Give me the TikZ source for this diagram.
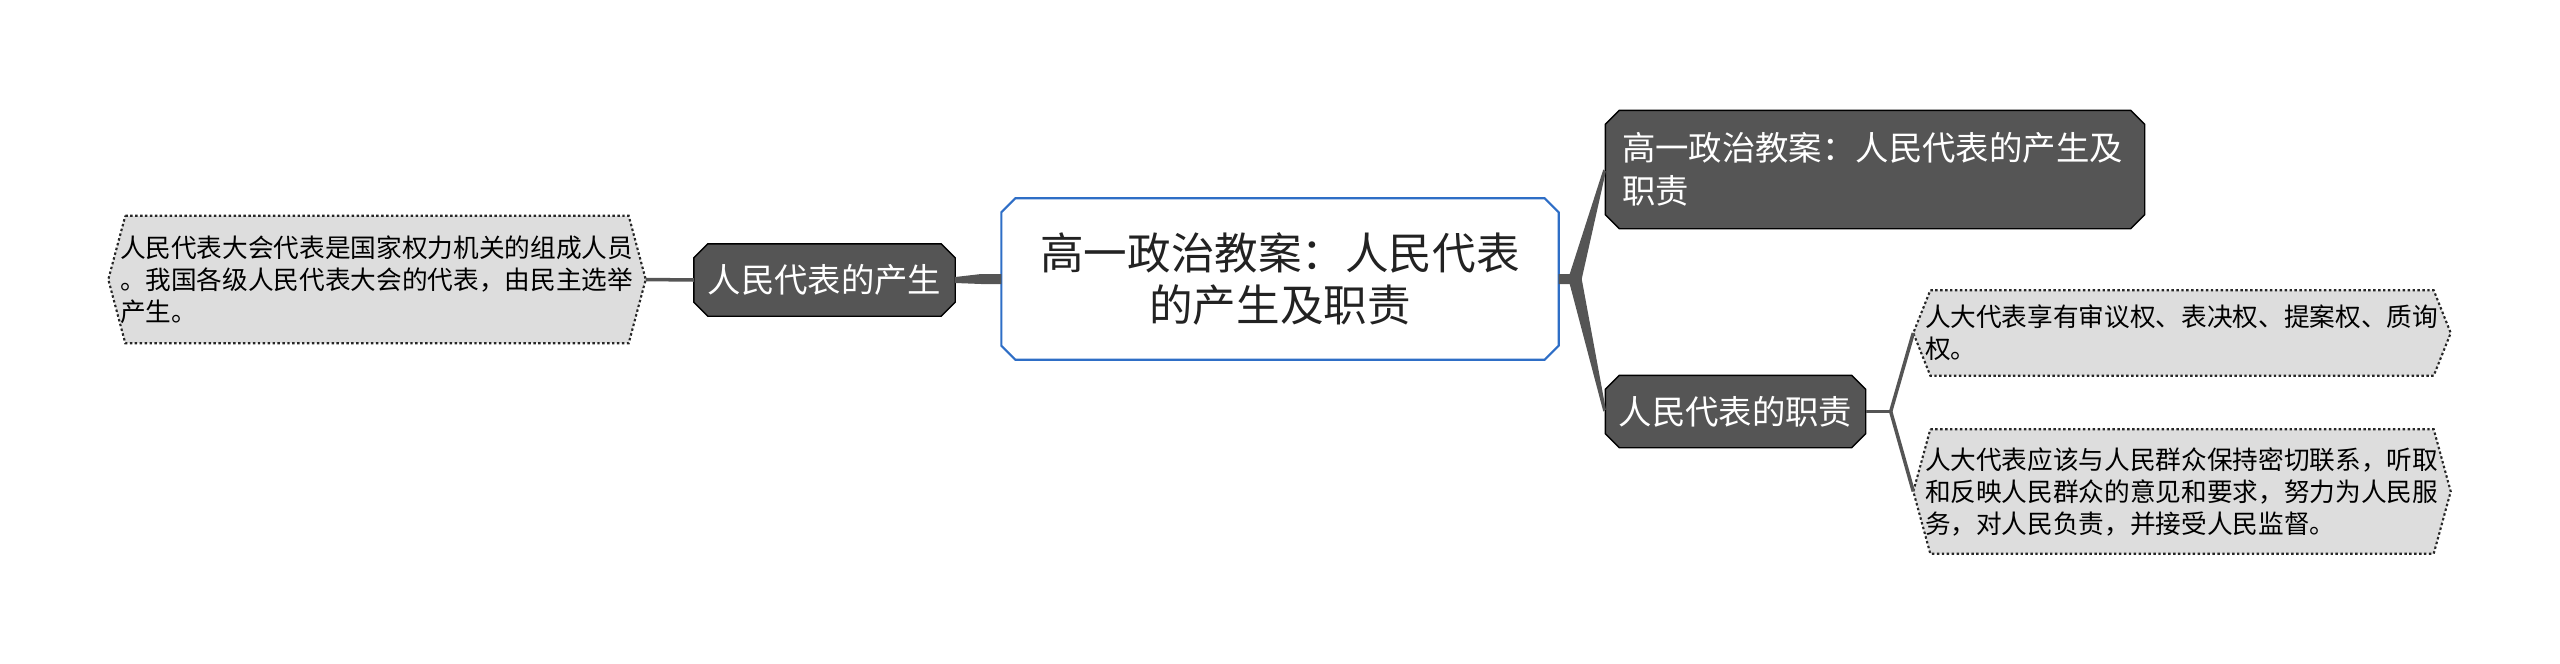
\documentclass[tikz,border=0pt]{standalone}
\usepackage{fontspec}
\newfontfamily\cjk{Noto Sans CJK SC}
\usetikzlibrary{calc,backgrounds}
\definecolor{nodedark}{RGB}{85,85,85}
\definecolor{leafgray}{RGB}{221,221,221}
\definecolor{rootblue}{RGB}{46,110,198}
\definecolor{inkgray}{RGB}{34,34,34}
\tikzset{
  rootnode/.style={minimum width=5.56cm,minimum height=1.60cm,inner sep=0pt,align=center,text=inkgray,font=\cjk\fontsize{12.4}{14.9}\selectfont},
  midnode/.style={minimum width=2.6cm,minimum height=0.71cm,inner sep=0pt,text=white,font=\cjk\fontsize{9.5}{12.1}\selectfont},
  leafnode/.style={minimum width=5.36cm,inner xsep=0.11cm,text width=5.14cm,align=left,text=black,font=\cjk\fontsize{7.3}{9.1}\selectfont},
  rootframe/.style={draw=rootblue,fill=white,line width=0.6pt},
  darkframe/.style={fill=nodedark},
  leafedge/.style={draw=black!85,fill=leafgray,dash pattern=on 0.7pt off 0.7pt,line width=0.6pt},
  trunk/.style={fill=nodedark},
  twig/.style={draw=nodedark,line width=1pt}
}
\def\cutsz{0.14}
\newcommand{\octframe}[2]{%
  \draw[#1] ($(#2.north west)+(\cutsz,0)$) -- ($(#2.north east)+(-\cutsz,0)$)
    -- ($(#2.north east)+(0,-\cutsz)$) -- ($(#2.south east)+(0,\cutsz)$)
    -- ($(#2.south east)+(-\cutsz,0)$) -- ($(#2.south west)+(\cutsz,0)$)
    -- ($(#2.south west)+(0,\cutsz)$) -- ($(#2.north west)+(0,-\cutsz)$) -- cycle;}
\newcommand{\hexframe}[1]{%
  \draw[leafedge] ($(#1.north west)+(0.17,0)$) -- ($(#1.north east)+(-0.17,0)$)
    -- (#1.east) -- ($(#1.south east)+(-0.17,0)$) -- ($(#1.south west)+(0.17,0)$)
    -- (#1.west) -- cycle;}

\begin{document}
\begin{tikzpicture}
  \useasboundingbox (0,0) rectangle (25.6,-6.64);
  \node[rootnode] (root) at (12.80,-2.79) {高一政治教案：人民代表\\的产生及职责};
  \node[midnode] (prod) at (8.245,-2.80) {人民代表的产生};
  \node[leafnode,minimum height=1.26cm] (leafL) at (3.77,-2.795)
    {人民代表大会代表是国家权力机关的组成人员\\。我国各级人民代表大会的代表，由民主选举\\产生。};
  \node[midnode,minimum width=5.38cm,minimum height=1.17cm,inner xsep=0.16cm,text width=5.06cm,align=left] (title) at (18.75,-1.695)
    {高一政治教案：人民代表的产生及\\职责};
  \node[midnode,minimum width=2.59cm] (duty) at (17.355,-4.115) {人民代表的职责};
  \node[leafnode,minimum height=0.84cm] (leafA) at (21.82,-3.33)
    {人大代表享有审议权、表决权、提案权、质询\\权。};
  \node[leafnode,minimum height=1.23cm] (leafB) at (21.82,-4.915)
    {人大代表应该与人民群众保持密切联系，听取\\和反映人民群众的意见和要求，努力为人民服\\务，对人民负责，并接受人民监督。};

  \begin{scope}[on background layer]
    \octframe{rootframe}{root}
    \foreach \n in {prod,title,duty}{\octframe{darkframe}{\n}}
    \foreach \n in {leafL,leafA,leafB}{\hexframe{\n}}
  \end{scope}

  % branches
  \coordinate (rfork) at ($(root.east)+(0.11,0)$);
  \coordinate (rnotch) at ($(rfork)+(0.12,0)$);
  \fill[trunk] ($(root.east)+(0,0.05)$) -- ($(rfork)+(0,0.05)$) -- ($(title.west)+(-0.02,0)$)
    -- ($(title.west)+(0.005,-0.02)$) -- (rnotch) -- ($(duty.west)+(0.005,0.02)$)
    -- ($(duty.west)+(-0.02,0)$) -- ($(rfork)+(0,-0.05)$) -- ($(root.east)+(0,-0.05)$) -- cycle;
  \fill[trunk] ($(prod.east)+(0,0.03)$) -- ($(root.west)+(-0.2,0.05)$) -- ($(root.west)+(0,0.05)$)
    -- ($(root.west)+(0,-0.05)$) -- ($(root.west)+(-0.2,-0.05)$) -- ($(prod.east)+(0,-0.03)$) -- cycle;
  \draw[twig] (leafL.east) -- (prod.west);
  \coordinate (dfork) at ($(duty.east)+(0.25,0)$);
  \draw[twig] (duty.east) -- (dfork);
  \draw[twig] (dfork) -- (leafA.west);
  \draw[twig] (dfork) -- (leafB.west);
\end{tikzpicture}
\end{document}
